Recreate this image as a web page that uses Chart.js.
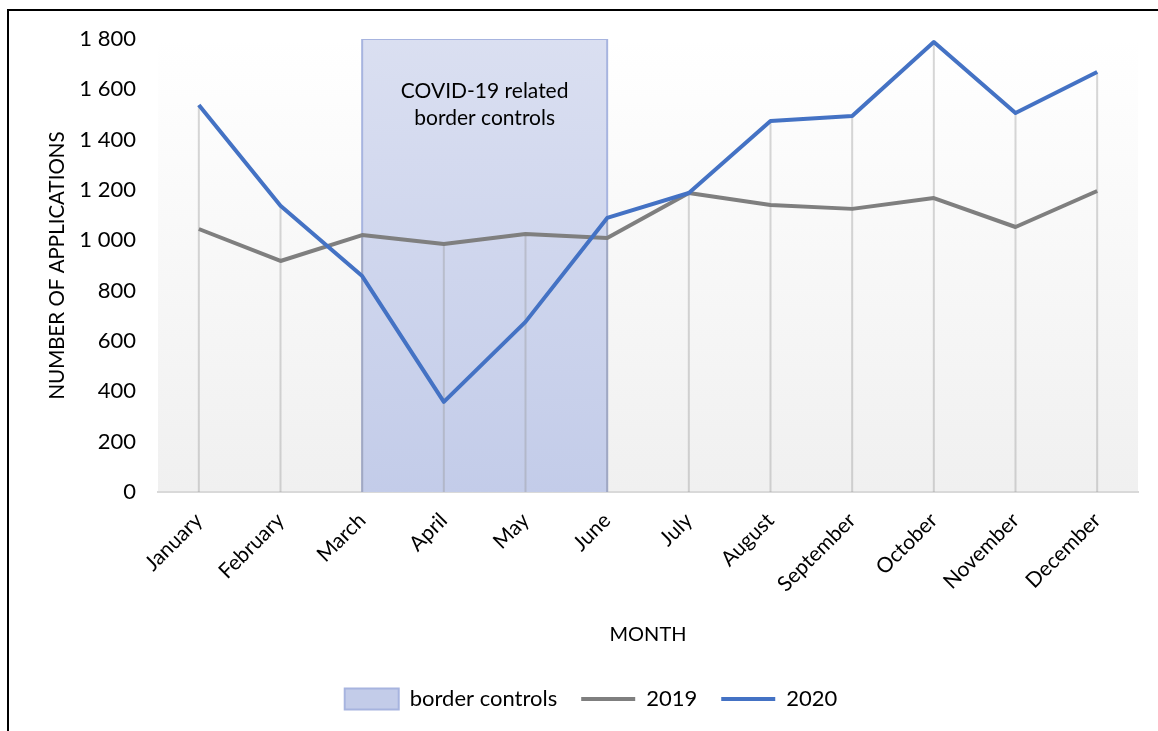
<!DOCTYPE html>
<html>
<head>
<meta charset="utf-8">
<script src="https://cdn.jsdelivr.net/npm/chart.js@4/dist/chart.umd.min.js"></script>
<style>
  html, body { margin: 0; padding: 0; background: #fff; overflow: hidden; }
  #frame {
    position: absolute; left: 7px; top: 9px;
    width: 1151px; height: 722px;
    border-left: 2px solid #000; border-top: 2px solid #000;
  }
  #chart { position: absolute; left: 0; top: 0; }
</style>
</head>
<body>
<div id="frame"><canvas id="chart" width="1149" height="720"></canvas></div>
<script>
// ── données ──
const months = ['January', 'February', 'March', 'April', 'May', 'June',
                'July', 'August', 'September', 'October', 'November', 'December'];
const apps2019 = [1045, 918, 1021, 985, 1025, 1009, 1188, 1140, 1125, 1168, 1053, 1196];
const apps2020 = [1538, 1137, 858, 358, 676, 1089, 1188, 1474, 1494, 1788, 1506, 1669];
const borderStart = 'March';
const borderEnd   = 'June';
const borderTop   = 1800;
const borderText  = ['COVID-19 related', 'border controls'];
const yTicks = { min: 0, max: 1800, step: 200 };

const FONT = 'Lato, "Open Sans", sans-serif';
const FS = 21;

function fmt(v) {
  if (v < 1000) return String(v);
  return Math.floor(v / 1000) + ' ' + String(v % 1000).padStart(3, '0');
}

function boxFill(ctx) {
  const area = ctx.chart.chartArea;
  if (!area) return '#cfd6ee';
  const g = ctx.chart.ctx.createLinearGradient(0, area.top, 0, area.bottom);
  g.addColorStop(0, '#dadff1');
  g.addColorStop(1, '#c3cce9');
  return g;
}

// fond du graphe en dégradé
const plotBg = {
  id: 'plotBg',
  beforeDraw(chart) {
    const { ctx, chartArea: a } = chart;
    const g = ctx.createLinearGradient(0, a.top, 0, a.bottom);
    g.addColorStop(0, '#ffffff');
    g.addColorStop(1, '#f0f0f0');
    ctx.save();
    ctx.fillStyle = g;
    ctx.fillRect(a.left, a.top, a.right - a.left, a.bottom - a.top);
    ctx.restore();
  }
};

// lignes de projection + texte de la zone
const dropLines = {
  id: 'dropLines',
  afterDatasetDraw(chart, args) {
    if (args.index !== 0) return;
    const { ctx, chartArea: a, scales } = chart;
    const m1 = chart.getDatasetMeta(1).data;
    const m2 = chart.getDatasetMeta(2).data;
    ctx.save();
    ctx.strokeStyle = 'rgba(150,150,150,0.38)';
    ctx.lineWidth = 2;
    months.forEach((m, i) => {
      const x = m1[i].x;
      const y = Math.min(m1[i].y, m2[i].y);
      ctx.beginPath();
      ctx.moveTo(x, y);
      ctx.lineTo(x, a.bottom);
      ctx.stroke();
    });
    // texte
    const cx = (scales.x.getPixelForValue(months.indexOf(borderStart)) +
                scales.x.getPixelForValue(months.indexOf(borderEnd))) / 2;
    const top = scales.y.getPixelForValue(borderTop);
    ctx.fillStyle = '#000';
    ctx.font = `21px ${FONT}`;
    ctx.textAlign = 'center';
    ctx.textBaseline = 'middle';
    borderText.forEach((t, i) => ctx.fillText(t, cx, top + 52 + i * 27));
    ctx.restore();
  }
};

const chart = new Chart(document.getElementById('chart'), {
  type: 'line',
  data: {
    labels: months,
    datasets: [
      {
        label: 'border controls',
        data: [
          { x: borderStart, y: 0 }, { x: borderStart, y: borderTop },
          { x: borderEnd, y: borderTop }, { x: borderEnd, y: 0 }
        ],
        backgroundColor: boxFill,
        borderColor: '#a7b4df',
        borderWidth: 2,
        fill: 'origin',
        pointRadius: 0,
        pointStyle: 'rect',
        tension: 0,
        order: 3
      },
      {
        label: '2019',
        data: apps2019,
        borderColor: '#7f7f7f',
        backgroundColor: '#7f7f7f',
        borderWidth: 4,
        pointRadius: 0,
        pointStyle: 'line',
        borderJoinStyle: 'round',
        tension: 0,
        order: 2
      },
      {
        label: '2020',
        data: apps2020,
        borderColor: '#4472c4',
        backgroundColor: '#4472c4',
        borderWidth: 4,
        pointRadius: 0,
        pointStyle: 'line',
        borderJoinStyle: 'round',
        tension: 0,
        order: 1
      }
    ]
  },
  options: {
    responsive: false,
    animation: false,
    layout: { padding: { left: 35, right: 20, top: 28, bottom: 11 } },
    plugins: {
      tooltip: { enabled: false },
      legend: {
        position: 'bottom',
        labels: {
          usePointStyle: true,
          pointStyleWidth: 54,
          boxHeight: 21,
          padding: 24,
          color: '#000',
          font: { family: FONT, size: 22 },
          sort: (a, b) => a.datasetIndex - b.datasetIndex
        }
      }
    },
    scales: {
      x: {
        offset: true,
        grid: { display: false, offset: false, drawTicks: false },
        border: { display: true, color: '#d9d9d9', width: 2 },
        ticks: {
          color: '#000', font: { family: FONT, size: FS },
          minRotation: 45, maxRotation: 45, padding: 16, autoSkip: false
        },
        title: {
          display: true, text: 'MONTH', color: '#000',
          font: { family: FONT, size: 20 }, padding: { bottom: 17 }
        },
        afterFit(s) { s.height = 172; }
      },
      y: {
        min: yTicks.min, max: yTicks.max,
        grid: { display: false, drawTicks: false },
        border: { display: false },
        ticks: {
          stepSize: yTicks.step, color: '#000', padding: 22,
          font: { family: FONT, size: 22 },
          callback: v => fmt(v)
        },
        title: {
          display: true, text: 'NUMBER OF APPLICATIONS', color: '#000',
          font: { family: FONT, size: 20.5 }, padding: { top: 1 }
        },
        afterFit(s) {
          s.width = 114;
          s.paddingTop = 0;
          s.paddingBottom = 0;
        }
      }
    }
  },
  plugins: [plotBg, dropLines]
});
</script>
</body>
</html>
